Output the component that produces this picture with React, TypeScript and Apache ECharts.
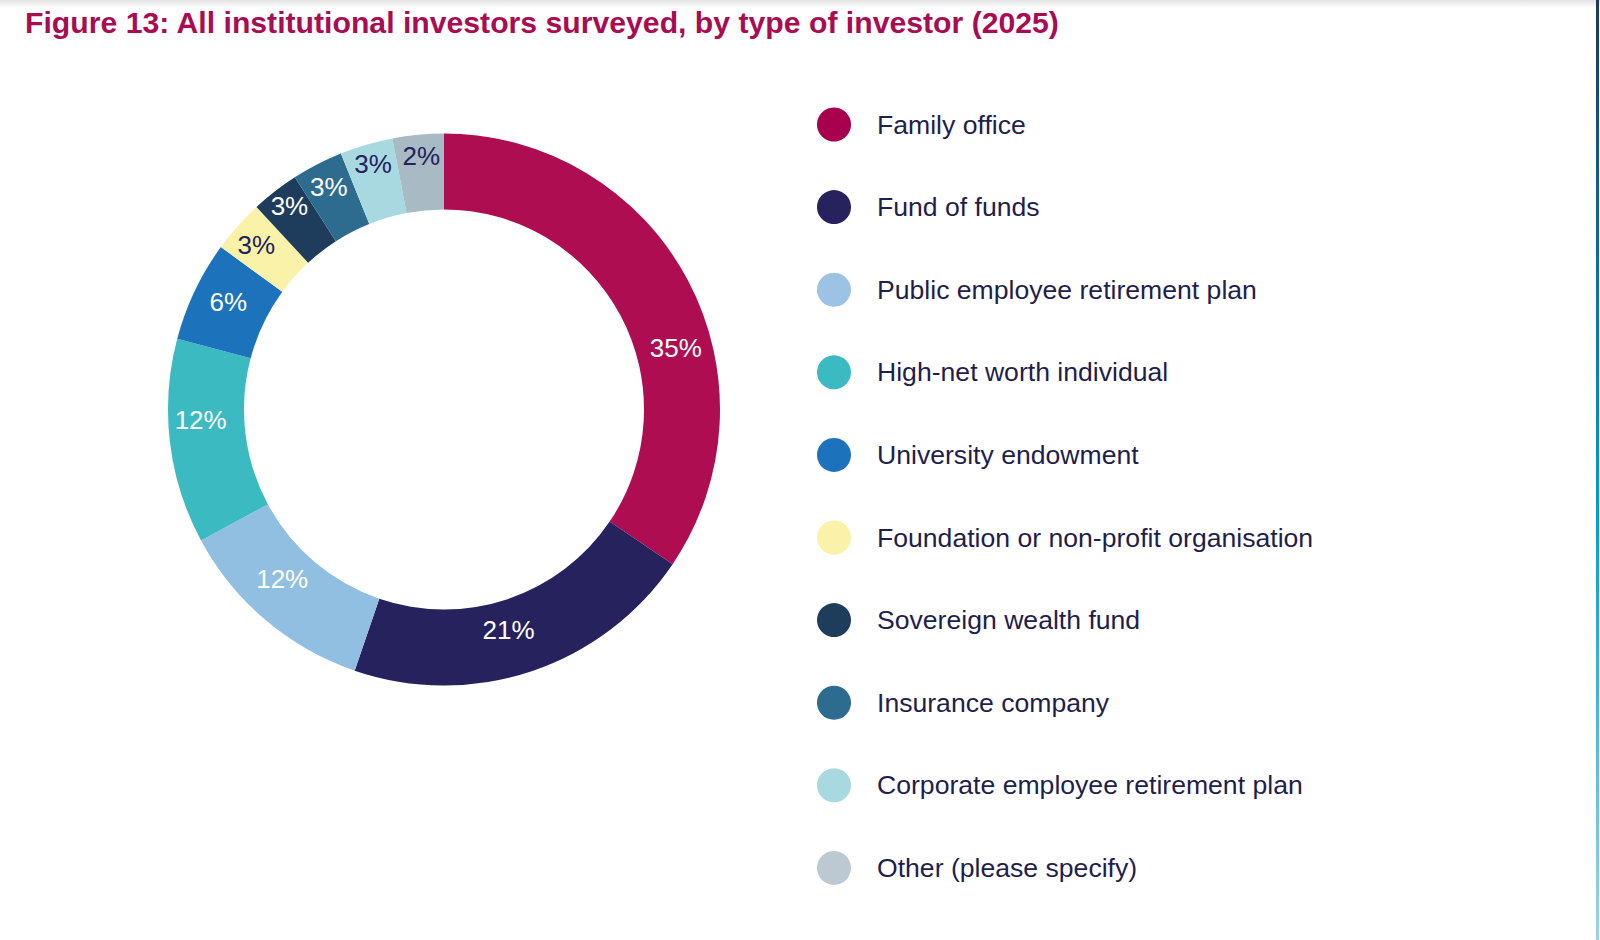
import React, { useEffect, useRef } from "react";
import * as echarts from "echarts";

const TITLE = "Figure 13: All institutional investors surveyed, by type of investor (2025)";

const categories = [
  "Family office",
  "Fund of funds",
  "Public employee retirement plan",
  "High-net worth individual",
  "University endowment",
  "Foundation or non-profit organisation",
  "Sovereign wealth fund",
  "Insurance company",
  "Corporate employee retirement plan",
  "Other (please specify)",
];

// slice sizes as drawn in the picture (share of the ring, %)
const shares = [34.5, 20.8, 11.9, 12.0, 5.9, 3.1, 2.8, 3.0, 3.1, 3.0];

// percentages as printed on the ring
const printedShares = [35, 21, 12, 12, 6, 3, 3, 3, 3, 2];

const colors = [
  "#AE0D52",
  "#25225E",
  "#91BFE1",
  "#3BBBC1",
  "#1D72BC",
  "#FAF2A8",
  "#1E3D5C",
  "#2D6C8F",
  "#A8D9E0",
  "#A8BAC4",
];

const legendColors = [
  "#A8004F",
  "#25225E",
  "#9DC3E4",
  "#3BBBC1",
  "#1D72BC",
  "#FAF2A8",
  "#1E3D5C",
  "#2D6C8F",
  "#A8D9E0",
  "#BCC8D2",
];

const labelColors = [
  "#FFFFFF",
  "#FFFFFF",
  "#FFFFFF",
  "#FFFFFF",
  "#FFFFFF",
  "#25225E",
  "#FFFFFF",
  "#FFFFFF",
  "#25225E",
  "#25225E",
];

// small nudges of the in-ring labels, as placed in the original artwork
const labelNudge = [
  [19, 52],
  [-12, -8],
  [-6, -14],
  [-4, -18],
  [2, -4],
  [-7.5, -4],
  [-7, -12.5],
  [-4.5, -8],
  [-3, -14],
  [0, -13.5],
];

export default function App() {
  const ref = useRef<HTMLDivElement>(null);

  useEffect(() => {
    if (!ref.current) return;
    const chart = echarts.init(ref.current, null, { renderer: "svg" });
    const font = "'Liberation Sans', Arial, Helvetica, sans-serif";
    chart.setOption({
      animation: false,
      backgroundColor: "#FFFFFF",
      title: {
        text: TITLE,
        left: 20,
        top: 2,
        textStyle: {
          fontFamily: font,
          fontSize: 30.2,
          fontWeight: "bold",
          color: "#A90C50",
        },
      },
      legend: {
        orient: "vertical",
        left: 812,
        top: 102.5,
        icon: "circle",
        itemWidth: 76,
        itemHeight: 34,
        itemGap: 48.6,
        selectedMode: false,
        data: categories.map((name, i) => ({
          name,
          itemStyle: { color: legendColors[i] },
        })),
        textStyle: {
          fontFamily: font,
          fontSize: 26.6,
          color: "#1F1E4C",
          lineHeight: 34,
        },
      },
      graphic: [
        {
          type: "rect",
          left: 0,
          top: 0,
          shape: { width: 1600, height: 8 },
          style: {
            fill: new echarts.graphic.LinearGradient(0, 0, 0, 1, [
              { offset: 0, color: "#E2E2E2" },
              { offset: 1, color: "#FFFFFF" },
            ]),
          },
          silent: true,
          z: -1,
        },
        {
          type: "rect",
          left: 1596,
          top: 0,
          shape: { width: 3, height: 940 },
          style: {
            fill: new echarts.graphic.LinearGradient(0, 0, 0, 1, [
              { offset: 0, color: "#1B395C" },
              { offset: 0.55, color: "#0A9CC4" },
              { offset: 1, color: "#A3D0E8" },
            ]),
          },
          silent: true,
        },
      ],
      series: [
        {
          type: "pie",
          center: [444, 409.5],
          radius: [200, 276],
          startAngle: 90,
          clockwise: true,
          avoidLabelOverlap: false,
          emphasis: { disabled: true },
          itemStyle: { borderWidth: 0 },
          label: {
            show: true,
            position: "inside",
            formatter: (p: any) => printedShares[p.dataIndex] + "%",
            fontFamily: font,
            fontSize: 26,
          },
          labelLine: { show: false },
          labelLayout: (params: any) => ({
            dx: labelNudge[params.dataIndex][0],
            dy: labelNudge[params.dataIndex][1],
          }),
          data: categories.map((name, i) => ({
            name,
            value: shares[i],
            itemStyle: { color: colors[i] },
            label: { color: labelColors[i] },
          })),
        },
      ],
    });
    return () => chart.dispose();
  }, []);

  return (
    <div
      ref={ref}
      style={{ position: "fixed", left: 0, top: 0, width: 1600, height: 940 }}
    />
  );
}
